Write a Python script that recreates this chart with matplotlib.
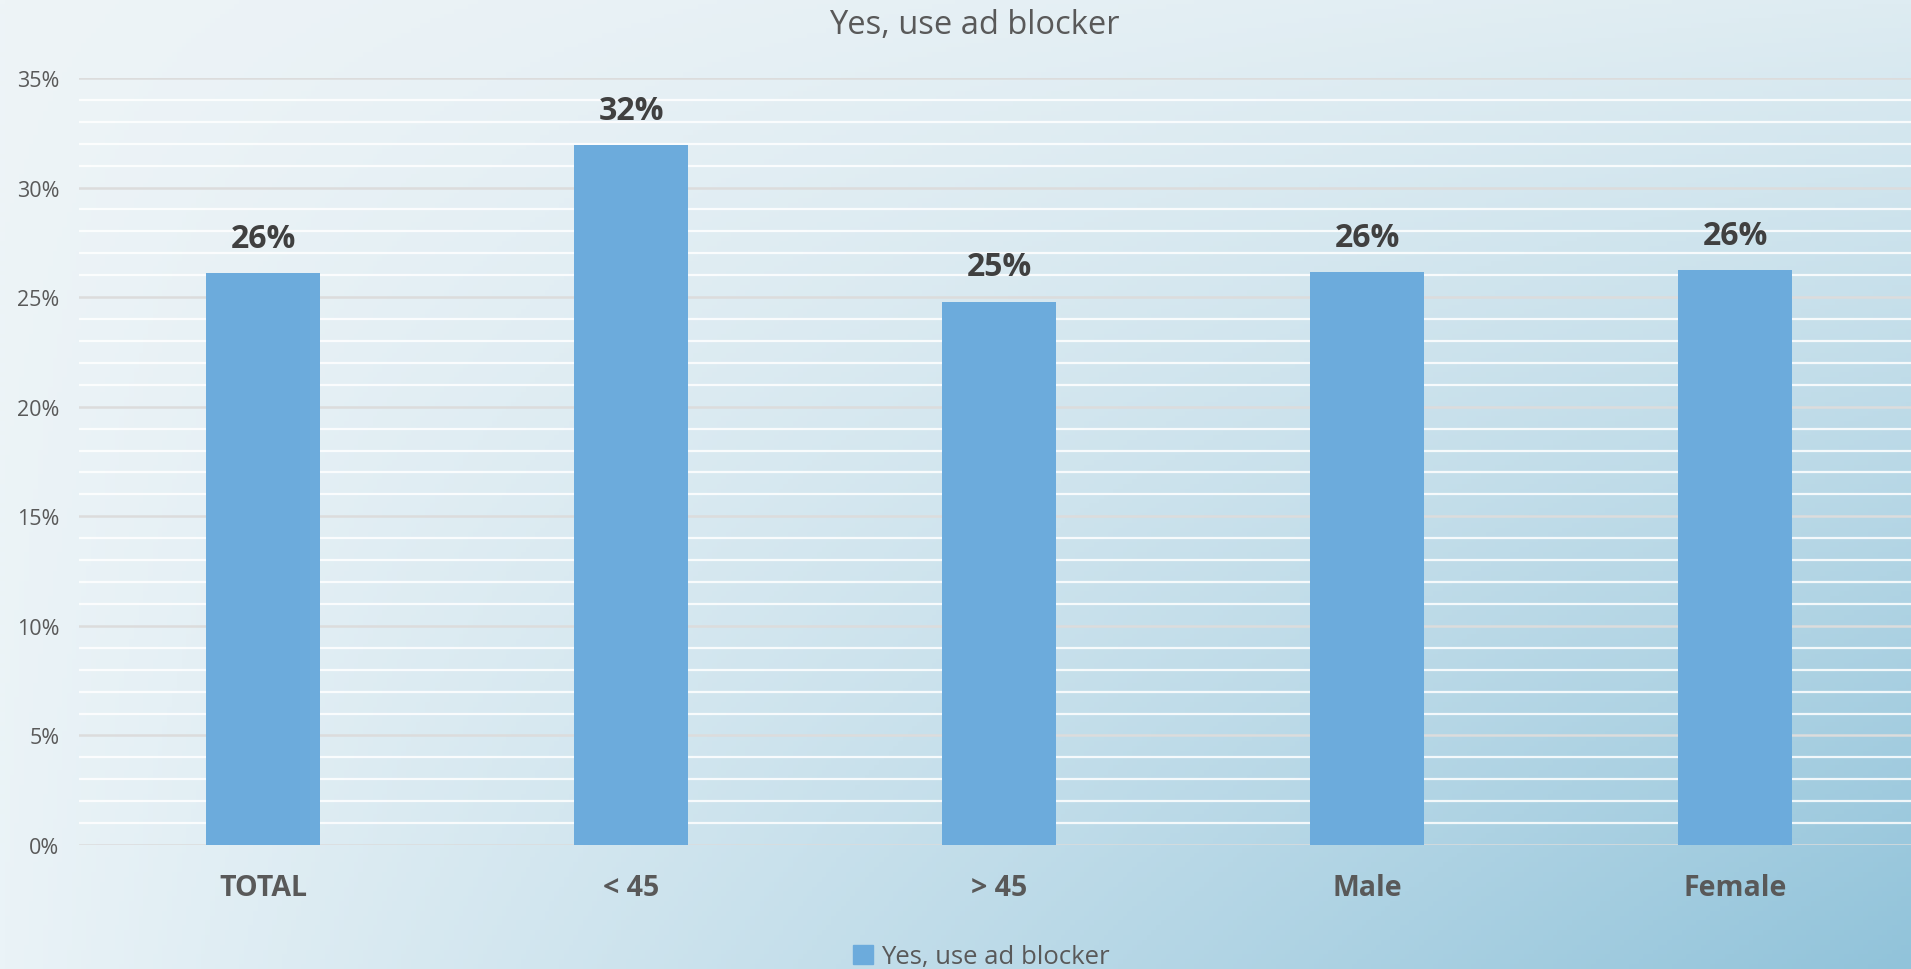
import numpy as np
import matplotlib.pyplot as plt
from matplotlib.patches import Patch

# chart data
categories = ["TOTAL", "< 45", "> 45", "Male", "Female"]
values = [26.1, 31.95, 24.8, 26.15, 26.25]
labels = ["26%", "32%", "25%", "26%", "26%"]
series_name = "Yes, use ad blocker"

bar_color = "#6cabdc"
text_gray = "#595959"

plt.rcParams['font.family'] = ['Open Sans', 'DejaVu Sans']

fig = plt.figure(figsize=(19.11, 9.70), dpi=100)

# background gradient (light top-left -> blue bottom-right)
bg = fig.add_axes([0, 0, 1, 1], zorder=-10)
h, w = 200, 400
u = np.linspace(0, 1, w)[None, :, None]
v = np.linspace(0, 1, h)[:, None, None]
tl = np.array([238, 244, 247]) / 255
tr = np.array([222, 236, 242]) / 255
bl = np.array([234, 243, 247]) / 255
br = np.array([145, 195, 218]) / 255
img = (tl * (1 - u) * (1 - v) + tr * u * (1 - v) + bl * (1 - u) * v + br * u * v)
bg.imshow(img, aspect='auto', extent=[0, 1, 0, 1], origin='upper')
bg.axis('off')

# plot area runs a bit past the right edge, like the original
ax = fig.add_axes([79 / 1911, 1 - 846 / 970, 1840 / 1911, 767 / 970])
ax.patch.set_alpha(0)

x = np.arange(len(categories))
bars = ax.bar(x, values, width=0.31, color=bar_color, zorder=3)

for xi, val, lab in zip(x, values, labels):
    ax.annotate(lab, (xi, val), xytext=(0, 13), textcoords='offset points',
                ha='center', va='bottom', fontsize=23, fontweight='bold',
                color='#404040', zorder=4)

ax.set_xlim(-0.5, len(categories) - 0.5)
ax.set_ylim(0, 35)

# grid: gray every 5%, white every 1%
for yv in range(0, 36):
    if yv % 5 == 0:
        ax.axhline(yv, color='#dcdcdc', lw=1.8, zorder=1)
    else:
        ax.axhline(yv, color='white', lw=1.6, alpha=0.85, zorder=1)

ax.set_yticks(range(0, 36, 5))
ax.set_yticklabels([f"{t}%" for t in range(0, 36, 5)], fontsize=15.5, color=text_gray)
ax.set_xticks(x)
ax.set_xticklabels(categories, fontsize=20.5, fontweight='bold', color=text_gray)
ax.tick_params(axis='both', length=0)
ax.tick_params(axis='x', pad=20)
ax.tick_params(axis='y', pad=14)
for s in ax.spines.values():
    s.set_visible(False)

fig.text(974 / 1911, 1 - 25 / 970, series_name, ha='center', va='center',
         fontsize=23.5, color=text_gray)

fig.legend(handles=[Patch(color=bar_color, label=series_name)],
           loc='center', bbox_to_anchor=(981 / 1911, 1 - 958 / 970), frameon=False,
           fontsize=18.5, labelcolor=text_gray, handlelength=0.8, handleheight=0.8,
           handletextpad=0.3)

fig.savefig("out.png", dpi=100)
